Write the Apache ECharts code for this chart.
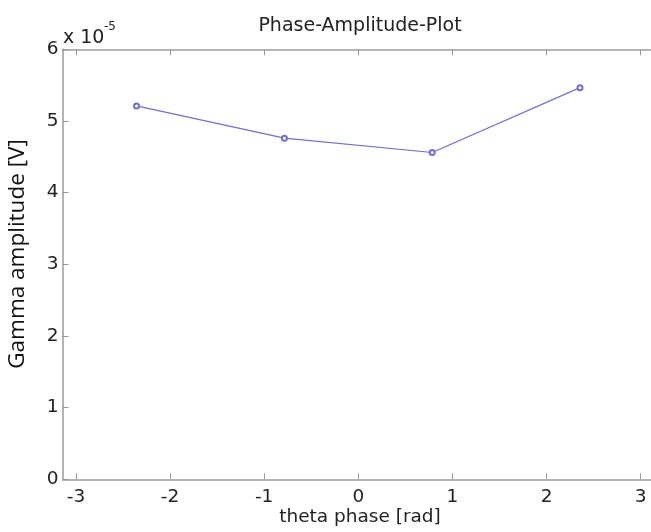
<!DOCTYPE html>
<html>
<head>
<meta charset="utf-8">
<script src="https://cdn.jsdelivr.net/npm/echarts@6/dist/echarts.min.js"></script>
<style>
html,body{margin:0;padding:0;background:#fff;}
#main{width:651px;height:532px;}
</style>
</head>
<body>
<div id="main"></div>
<script>
const thetaPhase = [-2.356, -0.785, 0.785, 2.356];
const gammaAmplitude = [5.21e-5, 4.76e-5, 4.56e-5, 5.465e-5];
const xTicks = [-3, -2, -1, 0, 1, 2, 3];
const titleText = 'Phase-Amplitude-Plot';
const xLabel = 'theta phase [rad]';
const yLabel = 'Gamma amplitude [V]';

// the reference picture is cropped at the right: visible x range is about [-pi, 3.11]
const xMin = -Math.PI, xMaxVisible = 3.11;

const axisColor = '#9a9a9a';
const font = 'DejaVu Sans';
const chart = echarts.init(document.getElementById('main'), null, {renderer: 'canvas'});
const data = thetaPhase.map((x, i) => [x, gammaAmplitude[i]]);

chart.setOption({
  animation: false,
  backgroundColor: '#fff',
  title: {
    text: titleText, left: 355, top: 12, textAlign: 'center',
    textStyle: {fontFamily: font, fontSize: 19, fontWeight: 'normal', color: '#222'}
  },
  grid: {left: 62.6, top: 49.3, width: 591.5, height: 430, containLabel: false},
  xAxis: [{
    type: 'value', min: xMin, max: xMaxVisible, position: 'bottom',
    axisLine: {show: true, onZero: false, lineStyle: {color: axisColor, width: 1.5}},
    axisTick: {show: true, inside: true, length: 6, customValues: xTicks, lineStyle: {color: axisColor}},
    axisLabel: {customValues: xTicks, margin: 8, fontFamily: font, fontSize: 18.5, color: '#222'},
    splitLine: {show: false}
  }, {
    type: 'value', min: xMin, max: xMaxVisible, position: 'top',
    axisLine: {show: true, onZero: false, lineStyle: {color: axisColor, width: 1.5}},
    axisTick: {show: true, inside: true, length: 6, customValues: xTicks, lineStyle: {color: axisColor}},
    axisLabel: {show: false},
    splitLine: {show: false}
  }],
  yAxis: [{
    type: 'value', min: 0, max: 6e-5, interval: 1e-5,
    axisLine: {show: true, onZero: false, lineStyle: {color: axisColor, width: 1.5}},
    axisTick: {show: true, inside: true, length: 6, lineStyle: {color: axisColor}},
    axisLabel: {margin: 4, fontFamily: font, fontSize: 18.5, color: '#222',
      formatter: v => String(Math.round(v * 1e5))},
    splitLine: {show: false}
  }],
  graphic: [
    {type: 'text', x: 18, y: 254, rotation: Math.PI / 2,
      style: {text: yLabel, font: '22.5px "Open Sans"', fill: '#111', align: 'center', verticalAlign: 'middle'}},
    {type: 'text', x: 360, y: 508,
      style: {text: xLabel, font: '18.5px "DejaVu Sans"', fill: '#222', align: 'center', verticalAlign: 'top'}},
    {type: 'text', x: 63, y: 29,
      style: {text: 'x 10', font: '19px "DejaVu Sans"', fill: '#222'}},
    {type: 'text', x: 104, y: 21,
      style: {text: '-5', font: '12px "DejaVu Sans"', fill: '#222'}}
  ],
  series: [{
    type: 'line', data: data, xAxisIndex: 0,
    symbol: 'emptyCircle', symbolSize: 5,
    lineStyle: {color: '#6d6de0', width: 1.2},
    itemStyle: {color: '#6d6de0', borderWidth: 1},
    z: 3
  }]
});
</script>
</body>
</html>
